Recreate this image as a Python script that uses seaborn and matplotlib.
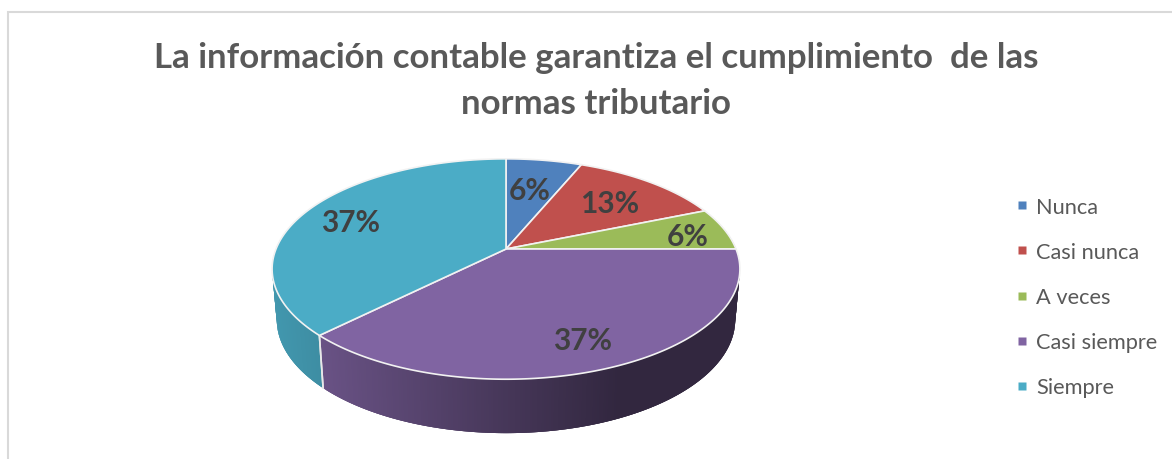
import numpy as np
import matplotlib
matplotlib.use("Agg")
import matplotlib.pyplot as plt
from matplotlib.lines import Line2D
import seaborn as sns

# ---- data ----
categories = ["Nunca", "Casi nunca", "A veces", "Casi siempre", "Siempre"]
counts = [1, 2, 1, 6, 6]
pct_labels = ["6%", "13%", "6%", "37%", "37%"]
base_colors = ["#4F81BD", "#C0504D", "#9BBB59", "#8064A2", "#4BACC6"]
title_text = "La información contable garantiza el cumplimiento  de las\nnormas tributario"

# ---- layout (pixels of the 1172x460 canvas) ----
W, H = 1172, 460
CX, CY, KX = 506.0, 250.0, 230.0
A, C = -61.1, 0.1818
label_xy = [(530, 191.5), (610, 204.5), (688, 237.5), (583, 341.5), (351, 223.5)]


def top_xy(theta_deg):
    """Perspective projection of the unit-circle pie onto the canvas."""
    t = np.radians(theta_deg)
    u, v = np.cos(t), np.sin(t)
    d = C * v + 1
    return CX + KX * u / d, (A * v + CY) / d


def bottom_xy(theta_deg):
    x, y = top_xy(theta_deg)
    return CX + (x - CX) * 0.98, CY + 50 + (y - CY) * 1.03


def shade(x):
    return np.interp(x, [272, 322, 506, 620, 740], [0.88, 0.82, 0.55, 0.39, 0.39])


sns.set_theme(style="white")
plt.rcParams["font.family"] = ["Lato", "DejaVu Sans"]
palette = sns.color_palette(base_colors)

fig = plt.figure(figsize=(W / 100, H / 100), dpi=100, facecolor="white")
ax = fig.add_axes([0, 0, 1, 1])

wedges, _ = ax.pie(counts, startangle=90, counterclock=False, colors=palette, radius=1)
angles = [(w.theta1, w.theta2) for w in wedges]
for w in wedges:
    w.remove()

ax.set_aspect("auto")
ax.set_xlim(0, W)
ax.set_ylim(H, 0)
ax.axis("off")

# chart frame
ax.plot([8, 8, W], [H, 12.5, 12.5], color="#D9D9D9", lw=1.5, solid_joinstyle="miter", clip_on=False)

# side wall: thin shaded strips, each overlapping the next so no seams show
for (t1, t2), col in zip(angles, palette):
    phis = np.arange(t1, t2, 0.5)
    for a in phis:
        b = min(a + 1.5, t2)
        if np.sin(np.radians(a)) > 0.2:
            continue
        arc = np.linspace(a, b, 4)
        xt, yt = top_xy(arc)
        xb, yb = bottom_xy(arc[::-1])
        f = shade(xt[1])
        c = tuple(np.array(col) * f)
        ax.fill(np.r_[xt, xb], np.r_[yt, yb], color=c, lw=0, zorder=2)

# white seam on the side wall between slices
for (t1, t2) in angles:
    for th in (t1, t2):
        if np.sin(np.radians(th)) < -0.1:
            xt, yt = top_xy(th)
            xb, yb = bottom_xy(th)
            ax.plot([xt, xb], [yt, yb], color="#E8E8E8", lw=1.2, zorder=3)

# top face
for (t1, t2), col in zip(angles, palette):
    phis = np.linspace(t1, t2, 200)
    x, y = top_xy(phis)
    ax.fill(np.r_[CX, x], np.r_[CY, y], facecolor=col, edgecolor="#F2F2F2",
            lw=1.2, joinstyle="round", zorder=4)

# percentage labels
for (lx, ly), s in zip(label_xy, pct_labels):
    ax.text(lx, ly, s, ha="center", va="center", fontsize=21.5, fontweight="bold",
            color="#404040", zorder=5)

# title
ax.text(596, 81, title_text, ha="center", va="center", fontsize=25.15, fontweight="bold",
        color="#595959", linespacing=1.55, zorder=5)

# legend
handles = [Line2D([], [], linestyle="none", marker="s", markersize=5.8, color=c,
                  markeredgecolor="none") for c in palette]
leg = ax.legend(handles, categories, loc="upper left", bbox_to_anchor=(1015.5 / W, 1 - 198 / H),
                frameon=False, fontsize=15.7, labelcolor="#595959", handlelength=0.6,
                handletextpad=0.36, labelspacing=1.15, borderpad=0, borderaxespad=0)

fig.savefig("out.png", dpi=100, facecolor="white")
